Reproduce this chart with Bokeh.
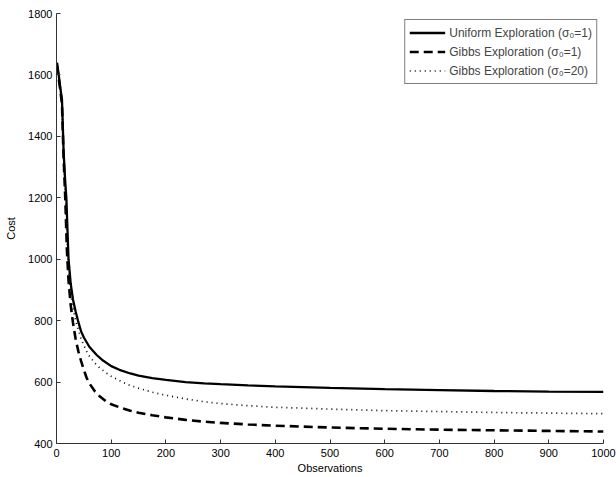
from bokeh.plotting import figure
from bokeh.models import FixedTicker, Legend, LegendItem, Range1d
from bokeh.embed import file_html
from bokeh.resources import INLINE

# ---- data ----
uniform_x = [1, 4, 8, 10, 13, 16, 18, 22, 26, 30, 35, 40, 45, 50, 60, 73, 85, 100, 115, 135, 150,
             175, 200, 236, 270, 300, 350, 400, 500, 600, 700, 800, 900, 1000]
uniform_y = [1640, 1600, 1545, 1520, 1350, 1250, 1200, 1000, 920, 870, 830, 795, 765, 745, 715, 689,
             670, 652, 640, 628, 621, 613, 607, 600, 596, 593, 589, 586, 581, 577, 574, 571, 569, 568]

gibbs1_x = [1, 4, 8, 10, 13, 16, 19, 22, 26, 30, 35, 40, 45, 50, 55, 60, 70, 80, 90, 100, 115, 135,
            150, 175, 200, 236, 270, 300, 350, 400, 500, 600, 700, 800, 900, 1000]
gibbs1_y = [1630, 1590, 1535, 1505, 1330, 1200, 1030, 930, 850, 795, 740, 700, 668, 640, 614, 596,
            570, 552, 538, 528, 518, 507, 500, 492, 485, 477, 471, 467, 462, 458, 452, 448, 445, 443,
            441, 439]

gibbs20_x = [1, 4, 8, 10, 13, 16, 19, 22, 26, 30, 35, 40, 45, 50, 54, 60, 70, 78, 90, 100, 114, 130,
             150, 175, 200, 236, 270, 300, 350, 400, 500, 600, 700, 800, 900, 1000]
gibbs20_y = [1635, 1595, 1540, 1510, 1340, 1225, 1080, 970, 890, 840, 800, 770, 740, 720, 703, 685,
             662, 648, 631, 619, 606, 592, 580, 567, 557, 545, 536, 530, 523, 518, 512, 507, 504, 501,
             499, 497]

x_ticks = [0, 100, 200, 300, 400, 500, 600, 700, 800, 900, 1000]
y_ticks = [400, 600, 800, 1000, 1200, 1400, 1600, 1800]

labels = ["Uniform Exploration (\u03c3\u2080=1)",
          "Gibbs Exploration (\u03c3\u2080=1)",
          "Gibbs Exploration (\u03c3\u2080=20)"]

FONT = "Liberation Sans"

p = figure(width=616, height=477, output_backend="svg", toolbar_location=None,
           x_range=Range1d(0, 1000), y_range=Range1d(400, 1800),
           min_border_left=56, min_border_right=13, min_border_top=13, min_border_bottom=34)
p.outline_line_color = None
p.xgrid.visible = False
p.ygrid.visible = False
p.background_fill_color = "white"
p.border_fill_color = "white"

for ax in (p.xaxis[0], p.yaxis[0]):
    ax.axis_line_color = "#333333"
    ax.major_tick_line_color = "#333333"
    ax.major_tick_in = 4
    ax.major_tick_out = 0
    ax.minor_tick_line_color = None
    ax.major_label_text_font = FONT
    ax.major_label_text_font_size = "11px"
    ax.major_label_text_color = "black"
    ax.axis_label_text_font = FONT
    ax.axis_label_text_font_size = "11px"
    ax.axis_label_text_font_style = "normal"
    ax.axis_label_text_color = "black"

p.xaxis.ticker = FixedTicker(ticks=x_ticks)
p.yaxis.ticker = FixedTicker(ticks=y_ticks)
p.xaxis.axis_label = "Observations"
p.yaxis.axis_label = "Cost"
p.xaxis.major_label_standoff = 5
p.yaxis.major_label_standoff = 4
p.xaxis.axis_label_standoff = 2
p.yaxis.axis_label_standoff = 8

r1 = p.line(uniform_x, uniform_y, line_color="black", line_width=2.3)
r2 = p.line(gibbs1_x, gibbs1_y, line_color="black", line_width=2.6, line_dash="9 5")
r3 = p.line(gibbs20_x, gibbs20_y, line_color="black", line_width=1.7, line_dash="1 4")

legend = Legend(items=[LegendItem(label=labels[0], renderers=[r1]),
                       LegendItem(label=labels[1], renderers=[r2]),
                       LegendItem(label=labels[2], renderers=[r3])],
                location="top_right")
legend.margin = 6
legend.padding = 4
legend.spacing = 2
legend.glyph_width = 36
legend.glyph_height = 17
legend.label_height = 17
legend.label_standoff = 4
legend.label_text_font = FONT
legend.label_text_font_size = "12px"
legend.border_line_color = "black"
legend.border_line_width = 1
legend.background_fill_alpha = 1.0
p.add_layout(legend)

open("out.html", "w").write(file_html(p, INLINE))
